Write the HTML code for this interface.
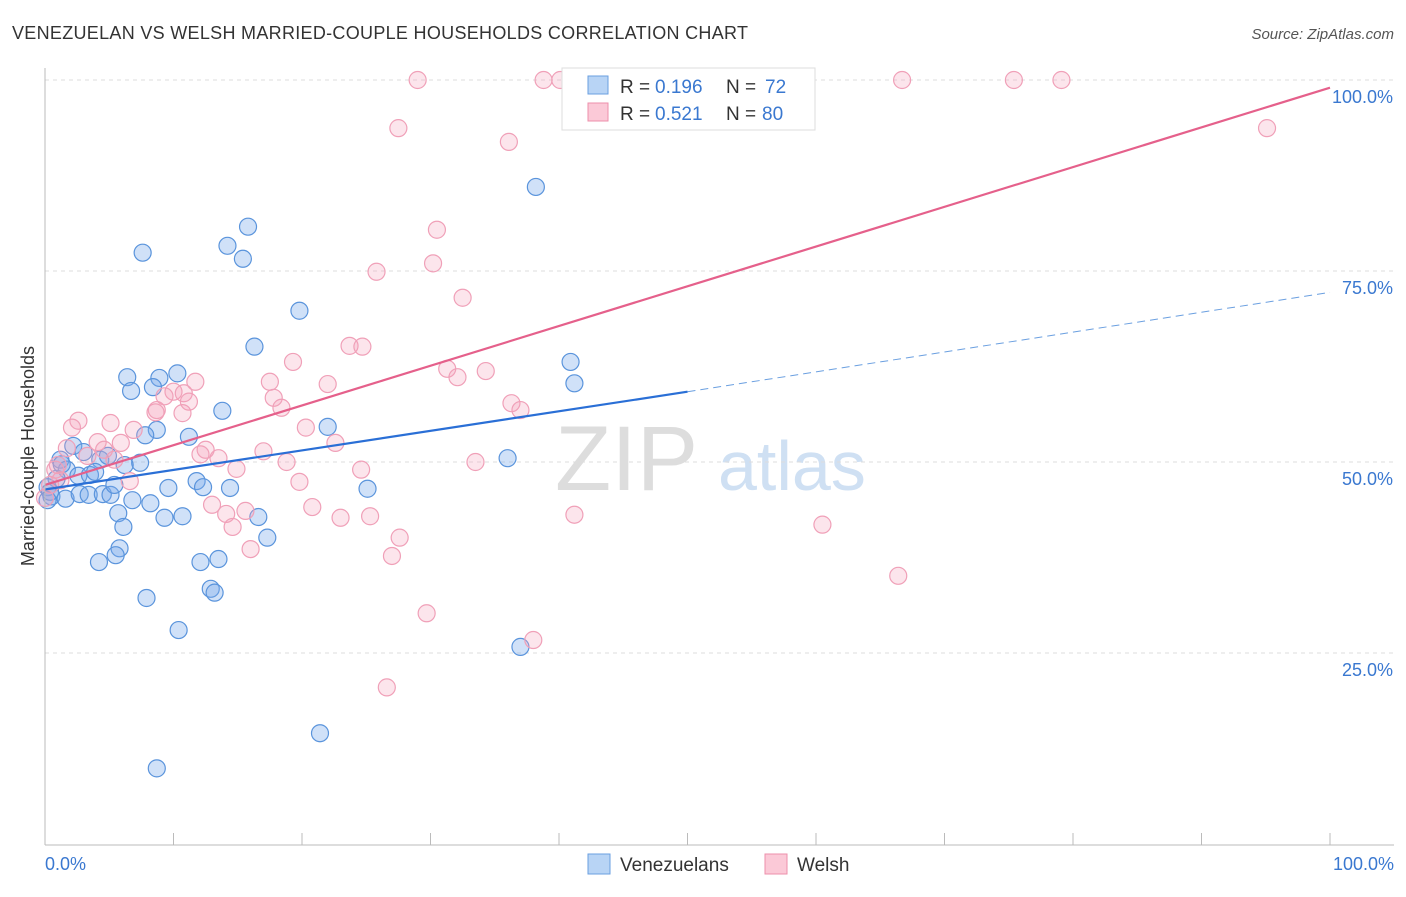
<!DOCTYPE html>
<html><head><meta charset="utf-8"><style>
body{margin:0;background:#fff;font-family:"Liberation Sans",sans-serif}
svg text{font-family:"Liberation Sans",sans-serif}
</style></head><body>
<svg width="1406" height="892" id="c">
<text x="12" y="39" font-size="18" fill="#333" textLength="736">VENEZUELAN VS WELSH MARRIED-COUPLE HOUSEHOLDS CORRELATION CHART</text>
<text x="1394" y="39" font-size="15" fill="#555" text-anchor="end" font-style="italic">Source: ZipAtlas.com</text>
<text x="555" y="490" font-size="92" fill="#ddd" font-family="Liberation Serif">ZIP</text>
<text x="718" y="490" font-size="70" fill="#cfe0f3">atlas</text>
<text transform="translate(34,456) rotate(-90)" font-size="18" fill="#333" text-anchor="middle">Married-couple Households</text>
<g id="grid"></g><g id="pts"></g><g id="lines"></g>
<line x1="45" y1="68" x2="45" y2="845" stroke="#bbb"/>
<line x1="45" y1="845" x2="1394" y2="845" stroke="#bbb"/>
<text x="45" y="870" font-size="18" fill="#3a78d0">0.0%</text>
<text x="1394" y="870" font-size="18" fill="#3a78d0" text-anchor="end">100.0%</text>
<g>
<rect x="562" y="68" width="253" height="62" fill="#fff" stroke="#ddd"/>
<rect x="588" y="76" width="20" height="18" fill="#b8d4f5" stroke="#6a9fe0"/>
<rect x="588" y="103" width="20" height="18" fill="#fbc9d7" stroke="#ee8fab"/>
<text x="620" y="93" font-size="19" fill="#333">R =</text>
<text x="655" y="93" font-size="19" fill="#3a78d0">0.196</text>
<text x="726" y="93" font-size="19" fill="#333">N =</text>
<text x="765" y="93" font-size="19" fill="#3a78d0">72</text>
<text x="620" y="120" font-size="19" fill="#333">R =</text>
<text x="655" y="120" font-size="19" fill="#3a78d0">0.521</text>
<text x="726" y="120" font-size="19" fill="#333">N =</text>
<text x="762" y="120" font-size="19" fill="#3a78d0">80</text>
</g>
<g>
<rect x="588" y="854" width="22" height="20" fill="#b8d4f5" stroke="#6a9fe0"/>
<text x="620" y="871" font-size="19" fill="#333">Venezuelans</text>
<rect x="765" y="854" width="22" height="20" fill="#fbc9d7" stroke="#ee8fab"/>
<text x="797" y="871" font-size="19" fill="#333">Welsh</text>
</g>
</svg>
<script>
const yTicks=[25,50,75,100];
const yTickLabels=["25.0%","50.0%","75.0%","100.0%"];
const xTicks=[0,10,20,30,40,50,60,70,80,90,100];
const bluePx=[[536,187],[248,227],[228,246],[243,259],[143,253],[300,311],[254,347],[571,362],[574,383],[177,373],[127,377],[160,378],[153,387],[131,391],[222,411],[157,430],[145,435],[189,437],[508,458],[328,427],[368,489],[73,446],[84,452],[60,460],[100,460],[108,456],[140,463],[67,470],[78,476],[90,475],[57,479],[48,487],[52,496],[66,499],[80,494],[89,495],[103,494],[111,495],[115,485],[133,500],[151,503],[168,488],[196,481],[203,487],[183,516],[164,518],[118,513],[124,527],[120,548],[116,555],[99,562],[200,562],[219,559],[211,589],[214,593],[147,598],[178,630],[258,517],[267,538],[230,488],[520,647],[320,733],[157,768],[125,465],[95,472],[50,492],[47,500],[62,464]];
const pinkPx=[[418,80],[543,80],[560,80],[657,80],[741,80],[902,80],[1014,80],[1061,80],[1267,128],[398,128],[509,142],[437,230],[377,272],[433,263],[462,298],[349,346],[363,347],[293,362],[447,369],[486,371],[458,377],[270,382],[328,384],[195,382],[173,392],[184,393],[189,402],[164,396],[157,410],[155,412],[274,398],[282,408],[183,413],[512,403],[520,410],[79,421],[110,423],[134,430],[306,428],[336,443],[72,428],[98,442],[67,448],[121,443],[205,450],[219,458],[201,454],[264,451],[286,462],[475,462],[361,470],[237,469],[300,482],[130,481],[88,456],[104,450],[58,465],[55,470],[212,505],[245,511],[226,514],[312,507],[340,518],[370,516],[574,515],[823,525],[232,527],[400,538],[392,556],[250,549],[898,576],[427,613],[533,640],[387,687],[50,485],[45,498],[115,460],[60,480]];
// convert read pixel positions into data values (percent)
const toX=p=>+((p-45)/12.85).toFixed(1), toY=p=>+((844-p)/7.64).toFixed(1);
const blueX=bluePx.map(p=>toX(p[0])), blueY=bluePx.map(p=>toY(p[1]));
const pinkX=pinkPx.map(p=>toX(p[0])), pinkY=pinkPx.map(p=>toY(p[1]));
const blueTrend=[[0,46.4],[50,59.2],[100,72.2]];
const pinkTrend=[[0,47],[100,99]];
const sx=v=>45+v*12.85, sy=v=>844-v*7.64;
const NS="http://www.w3.org/2000/svg";
function mk(t,a,p){const e=document.createElementNS(NS,t);for(const k in a)e.setAttribute(k,a[k]);document.getElementById(p).appendChild(e);return e;}
yTicks.forEach((v,i)=>{
 const l=mk('line',{x1:45,x2:1394,y1:sy(v),y2:sy(v),stroke:'#ddd','stroke-dasharray':'4,4'},'grid');
 
 
 const t=mk('text',{x:1393,y:sy(v)+23,'font-size':18,fill:'#3a78d0','text-anchor':'end'},'grid');
 t.textContent=yTickLabels[i];
 
 
});
xTicks.forEach(v=>{
 const l=mk('line',{x1:sx(v),x2:sx(v),y1:833,y2:845,stroke:'#bbb'},'grid');
 
 
});
blueX.forEach((x,i)=>{
 const c=mk('circle',{cx:sx(x),cy:sy(blueY[i]),r:8.5,fill:'rgba(120,170,235,0.35)',stroke:'#5a94dc','stroke-width':1.2},'pts');
 
 
});
pinkX.forEach((x,i)=>{
 const c=mk('circle',{cx:sx(x),cy:sy(pinkY[i]),r:8.5,fill:'rgba(245,160,185,0.28)',stroke:'#f0a0b8','stroke-width':1.2},'pts');
 
 
});
let l=mk('line',{x1:sx(blueTrend[0][0]),y1:sy(blueTrend[0][1]),x2:sx(blueTrend[1][0]),y2:sy(blueTrend[1][1]),stroke:'#2a6fd6','stroke-width':2.2},'lines');


l=mk('line',{x1:sx(blueTrend[1][0]),y1:sy(blueTrend[1][1]),x2:sx(blueTrend[2][0]),y2:sy(blueTrend[2][1]),stroke:'#6a9fe0','stroke-width':1,'stroke-dasharray':'8,5'},'lines');


l=mk('line',{x1:sx(pinkTrend[0][0]),y1:sy(pinkTrend[0][1]),x2:sx(pinkTrend[1][0]),y2:sy(pinkTrend[1][1]),stroke:'#e5608b','stroke-width':2.2},'lines');


</script>
</body></html>
